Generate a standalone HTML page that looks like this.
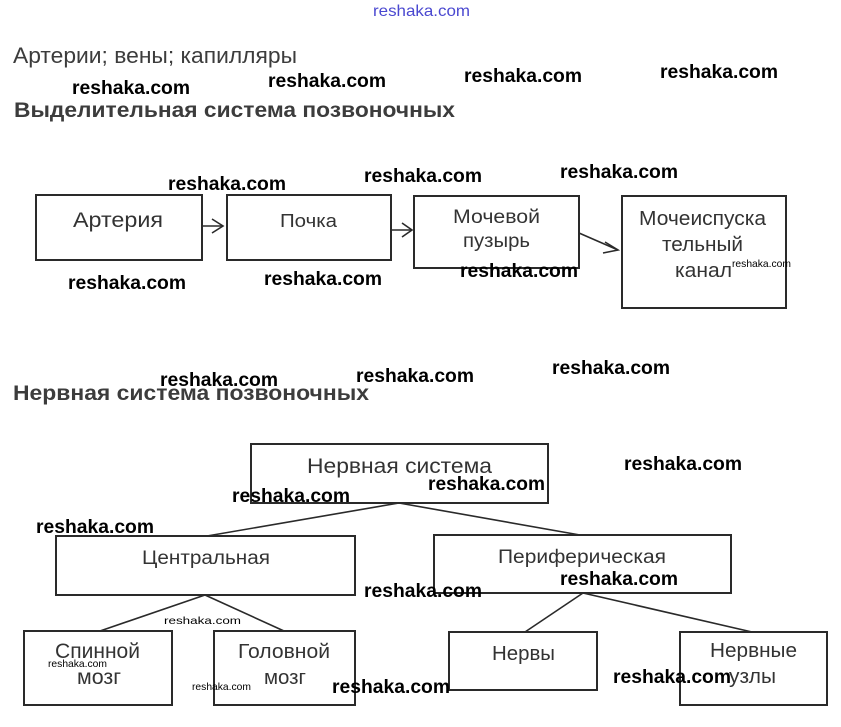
<!DOCTYPE html>
<html><head><meta charset="utf-8"><style>
html,body{margin:0;padding:0;background:#fff;}
svg{display:block;}
.h{font-family:"Liberation Sans",Arial,sans-serif;fill:#3c3c3c;}
.b{font-family:"Liberation Sans",Arial,sans-serif;fill:#333;}
.w{font-family:"Liberation Sans",Arial,sans-serif;fill:#000;font-weight:bold;font-size:19px;}
.ws{font-family:"Liberation Sans",Arial,sans-serif;fill:#000;font-size:10.5px;}
rect{fill:none;stroke:#2a2a2a;stroke-width:2;}
line,polyline{stroke:#2a2a2a;stroke-width:1.6;fill:none;}
</style></head><body>
<svg width="841" height="727" viewBox="0 0 841 727" xmlns="http://www.w3.org/2000/svg">
<rect x="0" y="0" width="841" height="727" style="fill:#fff;stroke:none"/>
<text x="373" y="16" style="font-family:'Liberation Sans',sans-serif;font-size:16px;fill:#4a48d0" textLength="97" lengthAdjust="spacingAndGlyphs">reshaka.com</text>

<text class="h" x="13" y="63" font-size="22" textLength="284" lengthAdjust="spacingAndGlyphs">Артерии; вены; капилляры</text>
<text class="h" x="14" y="117" font-size="21" font-weight="bold" textLength="441" lengthAdjust="spacingAndGlyphs">Выделительная система позвоночных</text>
<text class="h" x="13" y="400" font-size="21" font-weight="bold" textLength="356" lengthAdjust="spacingAndGlyphs">Нервная система позвоночных</text>

<!-- section 1 boxes -->
<rect x="36" y="195" width="166" height="65"/>
<rect x="227" y="195" width="164" height="65"/>
<rect x="414" y="196" width="165" height="72"/>
<rect x="622" y="196" width="164" height="112"/>
<line x1="202" y1="226" x2="223" y2="226"/>
<polyline points="212,219 223,226 212,233"/>
<line x1="391" y1="230" x2="412" y2="230"/>
<polyline points="402,223 412,230 402,237"/>
<line x1="579" y1="233" x2="618" y2="250"/>
<polyline points="605,242 618,250 603,253"/>

<text class="b" x="73" y="227" font-size="21" textLength="90" lengthAdjust="spacingAndGlyphs">Артерия</text>
<text class="b" x="280" y="227" font-size="18" textLength="57" lengthAdjust="spacingAndGlyphs">Почка</text>
<text class="b" x="453" y="223" font-size="19" textLength="87" lengthAdjust="spacingAndGlyphs">Мочевой</text>
<text class="b" x="463" y="247" font-size="19" textLength="67" lengthAdjust="spacingAndGlyphs">пузырь</text>
<text class="b" x="639" y="225" font-size="20" textLength="127" lengthAdjust="spacingAndGlyphs">Мочеиспуска</text>
<text class="b" x="662" y="251" font-size="20" textLength="81" lengthAdjust="spacingAndGlyphs">тельный</text>
<text class="b" x="675" y="277" font-size="20" textLength="57" lengthAdjust="spacingAndGlyphs">канал</text>

<!-- section 2 tree -->
<rect x="251" y="444" width="297" height="59"/>
<rect x="56" y="536" width="299" height="59"/>
<rect x="434" y="535" width="297" height="58"/>
<rect x="24" y="631" width="148" height="74"/>
<rect x="214" y="631" width="141" height="74"/>
<rect x="449" y="632" width="148" height="58"/>
<rect x="680" y="632" width="147" height="73"/>
<line x1="399" y1="503" x2="207" y2="536"/>
<line x1="399" y1="503" x2="580" y2="535"/>
<line x1="205" y1="595" x2="100" y2="631"/>
<line x1="205" y1="595" x2="284" y2="631"/>
<line x1="583" y1="593" x2="525" y2="632"/>
<line x1="583" y1="593" x2="752" y2="632"/>

<text class="b" x="307" y="473" font-size="21" textLength="185" lengthAdjust="spacingAndGlyphs">Нервная система</text>
<text class="b" x="142" y="564" font-size="19" textLength="128" lengthAdjust="spacingAndGlyphs">Центральная</text>
<text class="b" x="498" y="563" font-size="19" textLength="168" lengthAdjust="spacingAndGlyphs">Периферическая</text>
<text class="b" x="55" y="658" font-size="21" textLength="85" lengthAdjust="spacingAndGlyphs">Спинной</text>
<text class="b" x="77" y="684" font-size="21" textLength="44" lengthAdjust="spacingAndGlyphs">мозг</text>
<text class="b" x="238" y="658" font-size="20" textLength="92" lengthAdjust="spacingAndGlyphs">Головной</text>
<text class="b" x="264" y="684" font-size="20" textLength="42" lengthAdjust="spacingAndGlyphs">мозг</text>
<text class="b" x="492" y="660" font-size="20" textLength="63" lengthAdjust="spacingAndGlyphs">Нервы</text>
<text class="b" x="710" y="657" font-size="20" textLength="87" lengthAdjust="spacingAndGlyphs">Нервные</text>
<text class="b" x="729" y="683" font-size="20" textLength="47" lengthAdjust="spacingAndGlyphs">узлы</text>

<!-- watermarks -->
<g>
<text class="w" x="72" y="94" textLength="118" lengthAdjust="spacingAndGlyphs">reshaka.com</text>
<text class="w" x="268" y="87" textLength="118" lengthAdjust="spacingAndGlyphs">reshaka.com</text>
<text class="w" x="464" y="82" textLength="118" lengthAdjust="spacingAndGlyphs">reshaka.com</text>
<text class="w" x="660" y="78" textLength="118" lengthAdjust="spacingAndGlyphs">reshaka.com</text>
<text class="w" x="168" y="190" textLength="118" lengthAdjust="spacingAndGlyphs">reshaka.com</text>
<text class="w" x="364" y="182" textLength="118" lengthAdjust="spacingAndGlyphs">reshaka.com</text>
<text class="w" x="560" y="178" textLength="118" lengthAdjust="spacingAndGlyphs">reshaka.com</text>
<text class="w" x="68" y="289" textLength="118" lengthAdjust="spacingAndGlyphs">reshaka.com</text>
<text class="w" x="264" y="285" textLength="118" lengthAdjust="spacingAndGlyphs">reshaka.com</text>
<text class="w" x="460" y="277" textLength="118" lengthAdjust="spacingAndGlyphs">reshaka.com</text>
<text class="w" x="160" y="386" textLength="118" lengthAdjust="spacingAndGlyphs">reshaka.com</text>
<text class="w" x="356" y="382" textLength="118" lengthAdjust="spacingAndGlyphs">reshaka.com</text>
<text class="w" x="552" y="374" textLength="118" lengthAdjust="spacingAndGlyphs">reshaka.com</text>
<text class="w" x="624" y="470" textLength="118" lengthAdjust="spacingAndGlyphs">reshaka.com</text>
<text class="w" x="232" y="502" textLength="118" lengthAdjust="spacingAndGlyphs">reshaka.com</text>
<text class="w" x="428" y="490" textLength="117" lengthAdjust="spacingAndGlyphs">reshaka.com</text>
<text class="w" x="36" y="533" textLength="118" lengthAdjust="spacingAndGlyphs">reshaka.com</text>
<text class="w" x="560" y="585" textLength="118" lengthAdjust="spacingAndGlyphs">reshaka.com</text>
<text class="w" x="364" y="597" textLength="118" lengthAdjust="spacingAndGlyphs">reshaka.com</text>
<text class="w" x="332" y="693" textLength="118" lengthAdjust="spacingAndGlyphs">reshaka.com</text>
<text class="w" x="613" y="683" textLength="118" lengthAdjust="spacingAndGlyphs">reshaka.com</text>
<text class="ws" x="732" y="267" textLength="59" lengthAdjust="spacingAndGlyphs">reshaka.com</text>
<text class="ws" x="164" y="624" font-size="13" textLength="77" lengthAdjust="spacingAndGlyphs">reshaka.com</text>
<text class="ws" x="48" y="667" textLength="59" lengthAdjust="spacingAndGlyphs">reshaka.com</text>
<text class="ws" x="192" y="690" textLength="59" lengthAdjust="spacingAndGlyphs">reshaka.com</text>
</g>
</svg>
</body></html>
